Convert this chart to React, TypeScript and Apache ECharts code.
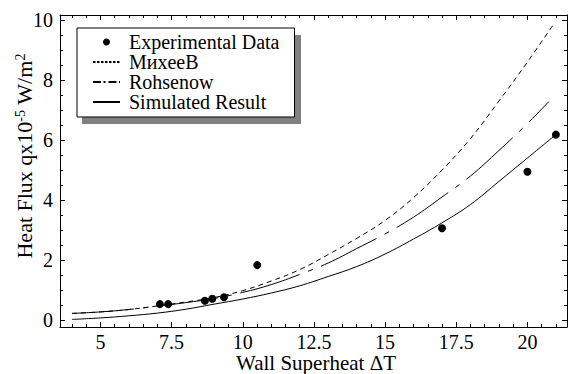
import React, { useEffect, useRef } from "react";
import * as echarts from "echarts";

const FONT = "Liberation Serif";

const curveX = [4, 5, 6, 7, 8, 9, 10, 11, 12, 13, 14, 15, 16, 17, 18, 19, 20];
const simulatedX = [...curveX, 21];
const simulatedY = [0.02, 0.07, 0.14, 0.23, 0.36, 0.53, 0.7, 0.9, 1.14, 1.45, 1.78, 2.2, 2.7, 3.24, 3.85, 4.62, 5.4, 6.18];
const rohsenowX = [...curveX, 20.75];
const rohsenowY = [0.22, 0.27, 0.35, 0.46, 0.58, 0.72, 0.92, 1.18, 1.52, 1.9, 2.38, 2.87, 3.43, 4.1, 4.8, 5.65, 6.55, 7.28];
const mikheevX = [...curveX, 20.95];
const mikheevY = [0.22, 0.27, 0.35, 0.47, 0.6, 0.75, 0.98, 1.3, 1.68, 2.18, 2.72, 3.32, 4.08, 5.0, 6.05, 7.3, 8.6, 9.9];
const expX = [7.09, 7.38, 8.67, 8.93, 9.34, 10.51, 17.0, 20.0, 21.0];
const expY = [0.53, 0.53, 0.64, 0.71, 0.76, 1.83, 3.06, 4.94, 6.18];

const xMajor = [5, 7.5, 10, 12.5, 15, 17.5, 20];
const xMinor = [4, 4.5, 5, 5.5, 6, 6.5, 7, 7.5, 8, 8.5, 9, 9.5, 10, 10.5, 11, 11.5, 12, 12.5, 13, 13.5, 14, 14.5, 15, 15.5, 16, 16.5, 17, 17.5, 18, 18.5, 19, 19.5, 20, 20.5, 21];
const yMajor = [0, 2, 4, 6, 8, 10];
const yMinor = [0, 0.5, 1, 1.5, 2, 2.5, 3, 3.5, 4, 4.5, 5, 5.5, 6, 6.5, 7, 7.5, 8, 8.5, 9, 9.5, 10];

const X_MIN = 3.58;
const X_MAX = 21.39;
const Y_MIN = -0.233;
const Y_MAX = 10.167;

const zip = (xs: number[], ys: number[]) => xs.map((x, i) => [x, ys[i]]);

export default function App() {
  const ref = useRef<HTMLDivElement>(null);
  useEffect(() => {
    if (!ref.current) return;
    const chart = echarts.init(ref.current, null, { renderer: "svg" });
    const black = { color: "#000", width: 1 };
    const mkX = (pos: string, major: boolean, main: boolean) => ({
      type: "value",
      position: pos,
      min: X_MIN,
      max: X_MAX,
      axisLine: { show: major, onZero: false, lineStyle: black },
      axisTick: {
        show: true,
        inside: true,
        length: major ? 5 : 3,
        customValues: major ? xMajor : xMinor,
        lineStyle: black,
      },
      axisLabel: main
        ? { show: true, customValues: xMajor, fontFamily: FONT, fontSize: 20, lineHeight: 20, color: "#000", margin: 5 }
        : { show: false },
      splitLine: { show: false },
      ...(main
        ? {
            name: "Wall Superheat ΔT",
            nameLocation: "middle",
            nameGap: 26,
            nameMoveOverlap: false,
            nameTextStyle: { fontFamily: FONT, fontSize: 21, lineHeight: 20, color: "#000", padding: [0, 0, 0, 5] },
          }
        : {}),
    });
    const mkY = (pos: string, major: boolean, main: boolean) => ({
      type: "value",
      position: pos,
      min: Y_MIN,
      max: Y_MAX,
      axisLine: { show: major, onZero: false, lineStyle: black },
      axisTick: {
        show: true,
        inside: true,
        length: major ? 5 : 3,
        customValues: major ? yMajor : yMinor,
        lineStyle: black,
      },
      axisLabel: main
        ? { show: true, customValues: yMajor, fontFamily: FONT, fontSize: 20, color: "#000", margin: 7 }
        : { show: false },
      splitLine: { show: false },
      ...(main
        ? {
            name: "{a|Heat Flux qx10}{s|-5}{a| W/m}{s|2}",
            nameLocation: "middle",
            nameGap: 25,
            nameMoveOverlap: false,
            nameTextStyle: {
              fontFamily: FONT,
              fontSize: 22,
              color: "#000",
              padding: [0, 0, 0, 30],
              rich: {
                a: { fontFamily: FONT, fontSize: 22, color: "#000" },
                s: { fontFamily: FONT, fontSize: 14, color: "#000", verticalAlign: "top" },
              },
            },
          }
        : {}),
    });
    const noSym = { color: "rgba(0,0,0,0)", borderColor: "rgba(0,0,0,0)", borderWidth: 0 };
    chart.setOption({
      animation: false,
      grid: { left: 60, top: 15, right: 3, bottom: 47, outerBoundsMode: "none", containLabel: false },
      graphic: [
        {
          type: "rect",
          shape: { x: 82, y: 35, width: 219, height: 89 },
          style: { fill: "#808080" },
          z: 1,
        },
      ],
      legend: {
        orient: "vertical",
        left: 77,
        top: 28,
        padding: [4, 15, 5, 15],
        itemGap: 0,
        itemWidth: 27,
        itemHeight: 7,
        backgroundColor: "#fff",
        borderColor: "#000",
        borderWidth: 1,
        borderRadius: 0,
        z: 10,
        textStyle: { fontFamily: FONT, fontSize: 20, color: "#000", lineHeight: 20, padding: [0, 0, 0, 4] },
        data: [
          { name: "Experimental Data", icon: "circle", itemStyle: { color: "#000", opacity: 1 } },
          { name: "MиxeeB", lineStyle: { type: [2.5, 1.5] }, itemStyle: noSym },
          { name: "Rohsenow", lineStyle: { type: [8, 2.5, 2, 3] }, itemStyle: noSym },
          { name: "Simulated Result", itemStyle: noSym },
        ],
      },
      xAxis: [mkX("bottom", true, true), mkX("bottom", false, false), mkX("top", true, false), mkX("top", false, false)],
      yAxis: [mkY("left", true, true), mkY("left", false, false), mkY("right", true, false), mkY("right", false, false)],
      series: [
        {
          name: "Experimental Data",
          type: "scatter",
          data: zip(expX, expY),
          symbol: "circle",
          symbolSize: 8,
          itemStyle: { color: "#000", opacity: 1 },
          z: 5,
        },
        {
          name: "MиxeeB",
          type: "line",
          data: zip(mikheevX, mikheevY),
          symbol: "none",
          smooth: 0.4,
          lineStyle: { color: "#000", width: 1, type: [5, 4] },
          itemStyle: { color: "#000" },
        },
        {
          name: "Rohsenow",
          type: "line",
          data: zip(rohsenowX, rohsenowY),
          symbol: "none",
          smooth: 0.4,
          lineStyle: { color: "#000", width: 1, type: [62, 9, 5, 9] },
          itemStyle: { color: "#000" },
        },
        {
          name: "Simulated Result",
          type: "line",
          data: zip(simulatedX, simulatedY),
          symbol: "none",
          smooth: 0.4,
          lineStyle: { color: "#000", width: 1 },
          itemStyle: { color: "#000" },
        },
      ],
    });
    return () => chart.dispose();
  }, []);
  return (
    <div
      ref={ref}
      style={{ position: "absolute", left: 0, top: 0, width: 570, height: 374, background: "#fff" }}
    />
  );
}
